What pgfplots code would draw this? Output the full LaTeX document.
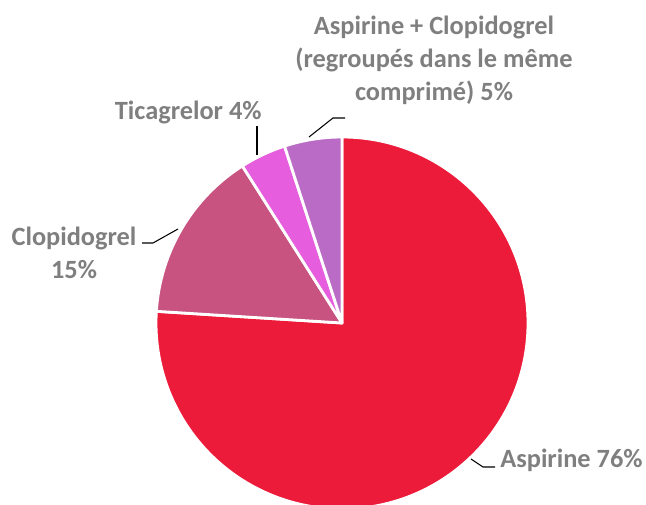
\documentclass[border=0pt]{standalone}
\usepackage{pgfplots}
\usepackage{pgfplotstable}
\usepackage{fontspec}
\pgfplotsset{compat=1.18}
\setmainfont{Carlito}

\definecolor{cAsp}{RGB}{237,27,58}
\definecolor{cClo}{RGB}{200,82,128}
\definecolor{cTic}{RGB}{230,94,222}
\definecolor{cAC}{RGB}{185,107,197}
\definecolor{txt}{RGB}{127,127,127}

% share of each drug, % (clockwise from 12 o'clock)
\pgfplotstableread{
name value
Aspirine 76
Clopidogrel 15
Ticagrelor 4
AspClop 5
}\piedata

\pgfplotstablegetelem{0}{value}\of\piedata \let\vA\pgfplotsretval
\pgfplotstablegetelem{1}{value}\of\piedata \let\vB\pgfplotsretval
\pgfplotstablegetelem{2}{value}\of\piedata \let\vC\pgfplotsretval
\pgfplotstablegetelem{3}{value}\of\piedata \let\vD\pgfplotsretval
\pgfmathsetmacro\aA{90}
\pgfmathsetmacro\aB{\aA-3.6*\vA}
\pgfmathsetmacro\aC{\aB-3.6*\vB}
\pgfmathsetmacro\aD{\aC-3.6*\vC}
\pgfmathsetmacro\aE{\aD-3.6*\vD}
\def\R{3.72}

\newcommand{\slice}[3]{%
  \fill[#3,draw=white,line width=1.6pt,line join=round]
    (axis cs:0,0) -- (axis cs:{\R*cos(#1)},{\R*sin(#1)})
    arc[start angle=#1,end angle=#2,radius=\R] -- cycle;}

\begin{document}
\begin{tikzpicture}
\begin{axis}[x=1cm,y=1cm,hide axis,clip=false,
  xmin=-6.84,xmax=6.08,ymin=-3.64,ymax=6.46]
  \slice{\aA}{\aB}{cAsp}
  \slice{\aB}{\aC}{cClo}
  \slice{\aC}{\aD}{cTic}
  \slice{\aD}{\aE}{cAC}
  % leader lines
  \draw[black,line width=0.6pt] (axis cs:-1.70,3.94) -- (axis cs:-1.70,3.36);
  \draw[black,line width=0.6pt] (axis cs:-0.66,3.72) -- (axis cs:-0.18,4.10) -- (axis cs:0.06,4.10);
  \draw[black,line width=0.6pt] (axis cs:-4.00,1.60) -- (axis cs:-3.78,1.60) -- (axis cs:-3.28,1.88);
  \draw[black,line width=0.6pt] (axis cs:2.58,-2.72) -- (axis cs:2.82,-2.88) -- (axis cs:3.06,-2.88);
  % labels
  \begin{scope}[every node/.style={text=txt,font=\fontsize{15}{18.8}\selectfont\bfseries,inner sep=0pt}]
  \node[align=center] at (axis cs:1.84,5.26) {Aspirine + Clopidogrel\\(regroupés dans le même\\comprimé) 5\%};
  \node[anchor=east] at (axis cs:-1.60,4.22) {Ticagrelor 4\%};
  \node[align=center] at (axis cs:-5.36,1.41) {Clopidogrel\\15\%};
  \node[anchor=west] at (axis cs:3.16,-2.74) {Aspirine 76\%};
  \end{scope}
  \coordinate (bl) at (axis cs:-6.84,-3.64);
  \coordinate (tr) at (axis cs:6.08,6.46);
\end{axis}
\pgfresetboundingbox
\useasboundingbox (bl) rectangle (tr);
\end{tikzpicture}
\end{document}
